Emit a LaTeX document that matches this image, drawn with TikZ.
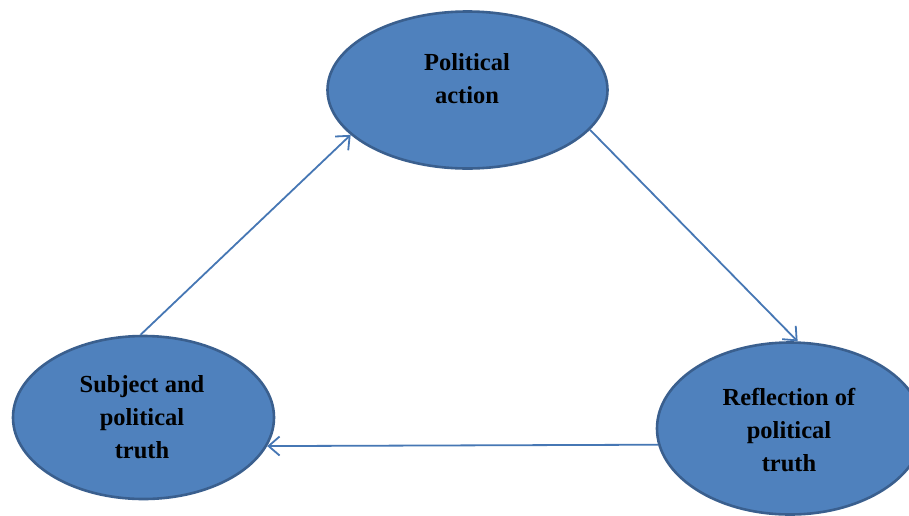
\documentclass[tikz,border=0pt]{standalone}
\usepackage{fontspec}
\setmainfont{Liberation Serif}
\usetikzlibrary{shapes.geometric,arrows.meta}
\definecolor{efill}{HTML}{4F81BD}
\definecolor{eline}{HTML}{3A5F8E}
\definecolor{aline}{HTML}{4677B4}
\tikzset{
  bubble/.style={ellipse, draw=eline, fill=efill, line width=2.6pt, inner sep=0pt},
  lbl/.style={align=center, font=\fontsize{24.5}{33}\selectfont\bfseries, inner sep=0pt},
  conn/.style={draw=aline, line width=1.8pt, -{Straight Barb[length=11pt,width=19pt,line width=1.8pt]}}
}
\begin{document}
\begin{tikzpicture}[x=1pt,y=-1pt]
\useasboundingbox (0,0) rectangle (909,515);
\clip (0,0) rectangle (909,515);
\fill[white] (0,0) rectangle (909,515);
\node[bubble, minimum width=280pt, minimum height=157pt] (t) at (467.5,90) {};
\node[bubble, minimum width=261pt, minimum height=163pt] (l) at (143.5,417.5) {};
\node[bubble, minimum width=266pt, minimum height=172pt] (r) at (790,428.5) {};
\node[lbl] (tt) at (467,79) {Political\\action};
\node[lbl] (lt) at (142,417) {Subject and\\political\\truth};
\node[lbl] (rt) at (789,430) {Reflection of\\political\\truth};
\draw[conn] (l.92) -- (t.201);
\draw[conn] (t.342) -- (r.85);
\draw[conn] (r.187) -- (l.347.6);
\end{tikzpicture}
\end{document}
